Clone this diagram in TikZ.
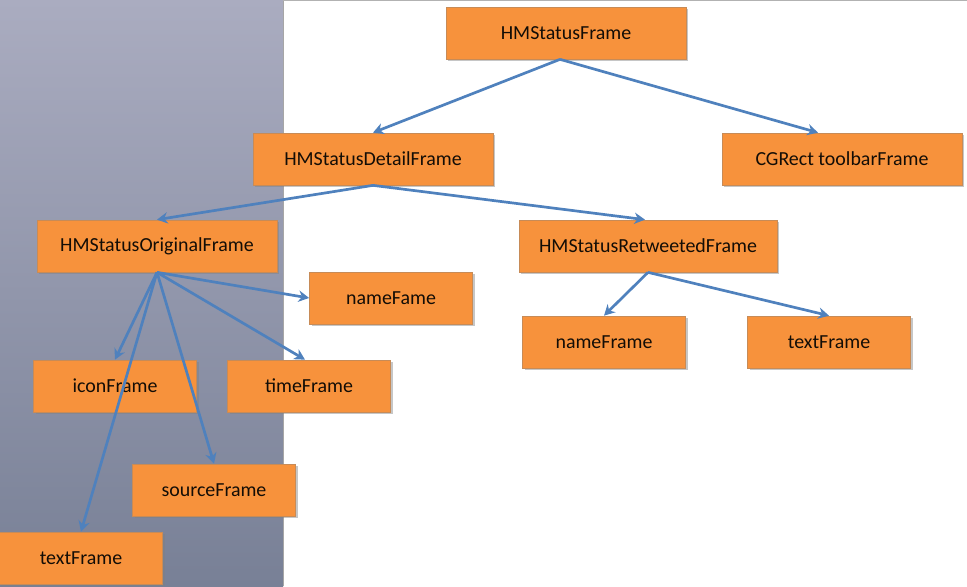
\documentclass[tikz,border=0pt]{standalone}
\usepackage{fontspec}
\setmainfont{Carlito}
\usetikzlibrary{arrows.meta,shadows}
\definecolor{boxorange}{RGB}{247,146,60}
\definecolor{linkblue}{RGB}{79,129,189}
\definecolor{paneltop}{RGB}{170,172,192}
\definecolor{panelbottom}{RGB}{120,128,150}
\tikzset{
  framebox/.style={rectangle, draw=boxorange!60!gray, line width=0.6pt,
    fill=boxorange, inner sep=0pt, minimum width=72mm, minimum height=15.6mm,
    font=\fontsize{17}{20}\selectfont, text=black!90!brown,
    drop shadow={shadow xshift=0.6mm, shadow yshift=-0.7mm, opacity=0.45}},
  smallbox/.style={framebox, minimum width=48.9mm},
  link/.style={draw=linkblue, line width=2.3pt,
    -{Stealth[length=3.2mm, width=3.4mm]}}
}
\begin{document}
\begin{tikzpicture}[x=0.3mm, y=-0.3mm]
    \useasboundingbox (0,0) rectangle (967,586);
    % 左側の背景
    \shade[top color=paneltop, bottom color=panelbottom] (0,0) rectangle (283,586);
    \draw[gray!70, line width=0.6pt] (283,0) -- (283,586);
    \draw[gray!60, line width=0.8pt] (283,0.5) -- (967,0.5);

    % ノード
    \node[framebox] (status) at (566,33) {HMStatusFrame};
    \node[framebox] (detail) at (373,159) {HMStatusDetailFrame};
    \node[framebox] (toolbar) at (842,159) {CGRect toolbarFrame};
    \node[framebox] (original) at (157,246) {HMStatusOriginalFrame};
    \node[framebox, minimum width=77.4mm] (retweeted) at (648,246) {HMStatusRetweetedFrame};
    \node[smallbox] (nameo) at (391,298) {nameFame};
    \node[smallbox] (namer) at (604,342) {nameFrame};
    \node[smallbox] (textr) at (829,342) {textFrame};
    \node[smallbox] (icon) at (115,386) {iconFrame};
    \node[smallbox] (time) at (309,386) {timeFrame};
    \node[smallbox] (source) at (214,490) {sourceFrame};
    \node[smallbox] (texto) at (81,558) {textFrame};

    % エッジ
    \draw[link] ([xshift=-1.8mm]status.south) -- (detail.north);
    \draw[link] ([xshift=-1.8mm]status.south) -- ([xshift=-7.2mm]toolbar.north);
    \draw[link] (detail.south) -- (original.north);
    \draw[link] (detail.south) -- ([xshift=-0.9mm]retweeted.north);
    \draw[link] (retweeted.south) -- (namer.north);
    \draw[link] (retweeted.south) -- (textr.north);
    \draw[link] (original.south) -- (nameo.west);
    \draw[link] (original.south) -- ([xshift=-1.2mm]time.north);
    \draw[link] (original.south) -- (icon.north);
    \draw[link] (original.south) -- (source.north);
    \draw[link] (original.south) -- (texto.north);
\end{tikzpicture}
\end{document}
